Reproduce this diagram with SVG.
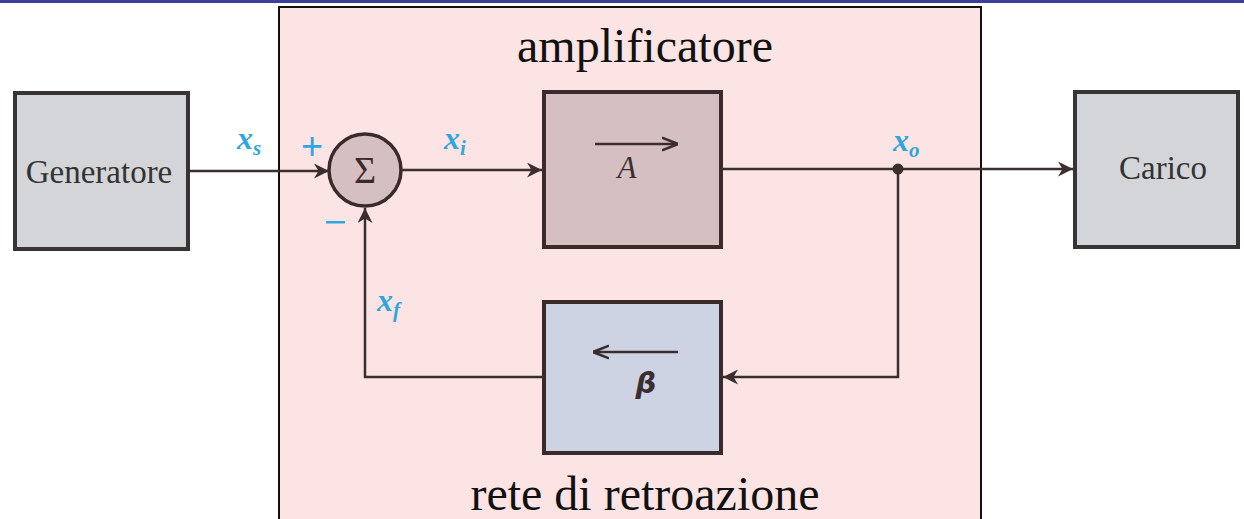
<svg xmlns="http://www.w3.org/2000/svg" width="1244" height="519" viewBox="0 0 1244 519">
<defs>
<style>
.blk{stroke:#383435;stroke-width:4;fill:#d4d5d8}
.amp{stroke:#3b2a2b;stroke-width:4;fill:#d6bfc1}
.fb{stroke:#3b2a2b;stroke-width:4;fill:#cdd3e2}
.ln{stroke:#3b2e2f;stroke-width:2.5;fill:none}
.lbl{fill:#2fa6df;font-style:italic;font-weight:bold}
</style>
<marker id="ah" viewBox="0 0 10 10" refX="10" refY="5" markerWidth="26" markerHeight="15" markerUnits="userSpaceOnUse" orient="auto">
<path d="M0,0 L10,5 L0,10 L3,5 Z" fill="#3b2e2f"/>
</marker>
<marker id="ahs" viewBox="0 0 10 10" refX="10" refY="5" markerWidth="16" markerHeight="16" markerUnits="userSpaceOnUse" orient="auto">
<path d="M0,1 L10,5 L0,9" fill="none" stroke="#3b2e2f" stroke-width="1.6"/>
</marker>
</defs>
<rect x="0" y="0" width="1244" height="519" fill="#ffffff"/>
<rect x="0" y="0" width="1244" height="3" fill="#3b3f9c"/>
<g id="amplificatore">
<rect x="279" y="7" width="702" height="520" fill="#fde4e4" stroke="#111" stroke-width="2"/>
<text x="645" y="62" font-family="'Liberation Serif', serif" font-size="48" text-anchor="middle" fill="#111">amplificatore</text>
<text x="645" y="510" font-family="'Liberation Serif', serif" font-size="48" text-anchor="middle" fill="#111">rete di retroazione</text>
</g>
<g id="generatore">
<rect class="blk" x="15" y="93" width="173" height="156"/>
<text x="99" y="183" font-family="'Liberation Serif', serif" font-size="33" text-anchor="middle" fill="#333">Generatore</text>
</g>
<g id="carico">
<rect class="blk" x="1075" y="92" width="163" height="155"/>
<text x="1163" y="179" font-family="'Liberation Serif', serif" font-size="33" text-anchor="middle" fill="#333">Carico</text>
</g>
<g id="sommatore">
<circle cx="365" cy="170" r="36" fill="#d6bfc1" stroke="#3b2a2b" stroke-width="3.5"/>
<text x="365" y="183" font-family="'Liberation Serif', serif" font-size="38" text-anchor="middle" fill="#3b2a2b">Σ</text>
<text x="312" y="159" font-family="'Liberation Sans', sans-serif" font-size="38" text-anchor="middle" fill="#2fa6df">+</text>
<rect x="326" y="221" width="19" height="2.5" fill="#2fa6df"/>
</g>
<g id="blocco-A">
<rect class="amp" x="544" y="92" width="177" height="155"/>
<line x1="595" y1="144" x2="678" y2="144" stroke="#3b2e2f" stroke-width="2.4" marker-end="url(#ahs)"/>
<text x="627" y="178" font-family="'Liberation Serif', serif" font-style="italic" font-size="31" text-anchor="middle" fill="#3b2e2f">A</text>
</g>
<g id="blocco-beta">
<rect class="fb" x="544" y="302" width="177" height="151"/>
<line x1="678" y1="352" x2="593" y2="352" stroke="#3b2e2f" stroke-width="2.4" marker-end="url(#ahs)"/>
<text x="646" y="393" font-family="'DejaVu Sans', sans-serif" font-style="italic" font-weight="bold" font-size="29" text-anchor="middle" fill="#3b2e2f">β</text>
</g>
<g id="connettori">
<line class="ln" x1="189" y1="171" x2="329" y2="171" marker-end="url(#ah)"/>
<line class="ln" x1="401" y1="170" x2="542" y2="170" marker-end="url(#ah)"/>
<line class="ln" x1="721" y1="169" x2="1073" y2="169" marker-end="url(#ah)"/>
<circle cx="898" cy="169" r="5.5" fill="#3b2e2f"/>
<polyline class="ln" points="898,169 898,377 723,377" marker-end="url(#ah)"/>
<polyline class="ln" points="544,377 365,377 365,208" marker-end="url(#ah)"/>
</g>
<g id="etichette" font-family="'Liberation Serif', serif">
<text x="237" y="149" class="lbl" font-size="32">x<tspan font-size="21" dy="6">s</tspan></text>
<text x="444" y="149" class="lbl" font-size="32">x<tspan font-size="21" dy="6">i</tspan></text>
<text x="893" y="151" class="lbl" font-size="32">x<tspan font-size="21" dy="6">o</tspan></text>
<text x="377" y="311" class="lbl" font-size="32">x<tspan font-size="21" dy="6">f</tspan></text>
</g>
</svg>
